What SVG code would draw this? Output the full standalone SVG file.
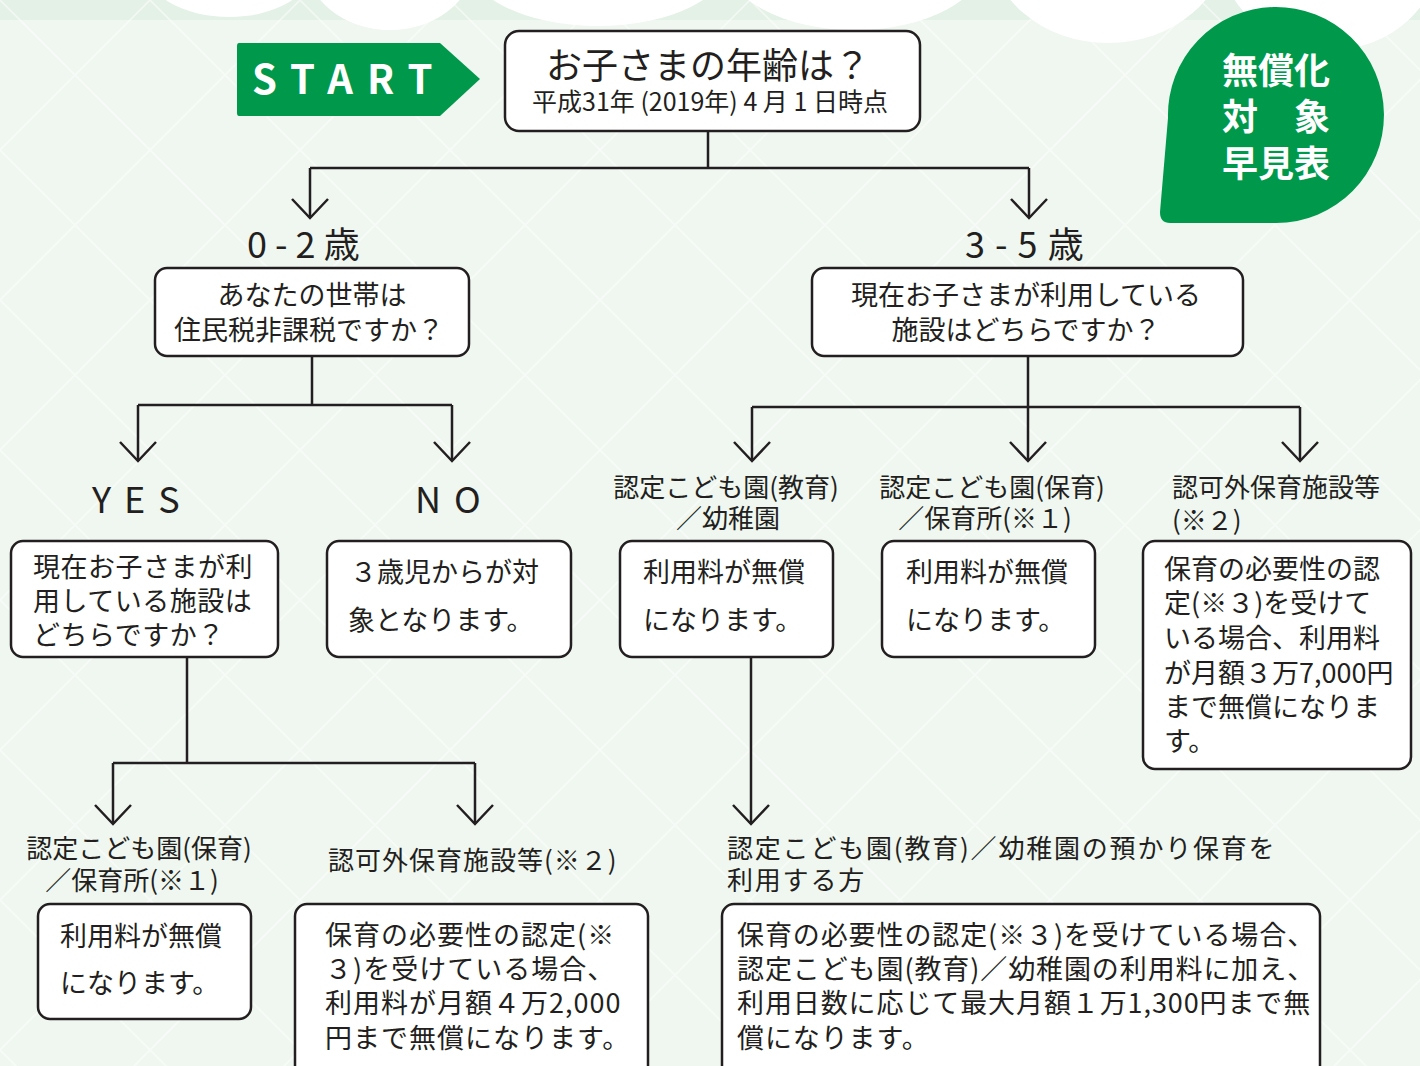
<svg xmlns="http://www.w3.org/2000/svg" xmlns:xlink="http://www.w3.org/1999/xlink" width="1420" height="1066" viewBox="0 0 1420 1066">
<style>
.box{fill:#fff;stroke:#231f20;stroke-width:2.5}
.t{font-family:"Noto Sans CJK JP","Noto Sans",sans-serif;fill:#231f20}
.ln{fill:none;stroke:#231f20;stroke-width:2.5}
.w{font-family:"Noto Sans CJK JP","Noto Sans",sans-serif;fill:#fff;font-weight:bold}
</style>
<defs>
<pattern id="lat" width="150" height="150" patternUnits="userSpaceOnUse">
<path d="M0,0 L150,150 M150,0 L0,150" stroke="#ffffff" stroke-width="1.6" opacity="0.5"/>
</pattern>
<path id="ah" d="M-18,-19 L0,0 L18,-19" fill="none" stroke="#231f20" stroke-width="2.5"/>
</defs>
<rect width="1420" height="1066" fill="#eff7f0"/>
<rect width="1420" height="20" fill="#e4f1e6"/>
<rect width="1420" height="1066" fill="url(#lat)"/>
<g id="clouds" fill="#fff">
<ellipse cx="229" cy="-30" rx="82" ry="47"/>
<ellipse cx="390" cy="-40" rx="85" ry="70"/>
<ellipse cx="598" cy="-40" rx="132" ry="66"/>
<ellipse cx="855" cy="-40" rx="130" ry="70"/>
<ellipse cx="1108" cy="-60" rx="120" ry="103"/>
<ellipse cx="1330" cy="-50" rx="110" ry="100"/>
</g>
<g id="start">
<path d="M239,43 H440 L480,79 L440,116 H239 Q237,116 237,113 V46 Q237,43 239,43 Z" fill="#00994c"/>
<text class="w" x="252" y="94" font-size="40" letter-spacing="14" font-family="'Noto Sans','DejaVu Sans',sans-serif">START</text>
</g>
<g id="badge">
<path d="M1168,118 A108 108 0 1 1 1276,223 L1170,223 Q1160,223 1160,212 L1168,118 Z" fill="#00994c"/>
<text class="w" x="1276" y="84" font-size="36" text-anchor="middle">無償化</text>
<text class="w" x="1276" y="130" font-size="36" text-anchor="middle">対　象</text>
<text class="w" x="1276" y="177" font-size="36" text-anchor="middle">早見表</text>
</g>
<g id="connectors">
<path class="ln" d="M708,131 V168 M310,168 H1029 M310,168 V218 M1029,168 V218"/>
<path class="ln" d="M312,356 V405 M138,405 H452 M138,405 V461 M452,405 V461"/>
<path class="ln" d="M1028,356 V407 M752,407 H1300 M752,407 V461 M1028,407 V461 M1300,407 V461"/>
<path class="ln" d="M751,657 V824"/>
<path class="ln" d="M187,657 V763 M113,763 H475 M113,763 V824 M475,763 V824"/>
<use xlink:href="#ah" x="310" y="218"/>
<use xlink:href="#ah" x="1029" y="218"/>
<use xlink:href="#ah" x="138" y="461"/>
<use xlink:href="#ah" x="452" y="461"/>
<use xlink:href="#ah" x="752" y="461"/>
<use xlink:href="#ah" x="1028" y="461"/>
<use xlink:href="#ah" x="1300" y="461"/>
<use xlink:href="#ah" x="751" y="824"/>
<use xlink:href="#ah" x="113" y="824"/>
<use xlink:href="#ah" x="475" y="824"/>
</g>
<g id="q-age">
<rect class="box" x="505" y="31" width="415" height="100" rx="14"/>
<text class="t" x="708" y="79" font-size="36" text-anchor="middle">お子さまの年齢は？</text>
<text class="t" x="710" y="111" font-size="25" text-anchor="middle">平成31年 (2019年) 4 月 1 日時点</text>
</g>
<g id="lbl-02"><text class="t" x="247" y="258" font-size="36">0 - 2 歳</text></g>
<g id="lbl-35"><text class="t" x="965" y="258" font-size="36" letter-spacing="1">3 - 5 歳</text></g>
<g id="q-tax">
<rect class="box" x="155" y="268" width="314" height="88" rx="12"/>
<text class="t" x="312" y="305" font-size="27" text-anchor="middle">あなたの世帯は</text>
<text class="t" x="309" y="340" font-size="27" text-anchor="middle">住民税非課税ですか？</text>
</g>
<g id="q-facility35">
<rect class="box" x="812" y="268" width="431" height="88" rx="12"/>
<text class="t" x="1026" y="305" font-size="27" text-anchor="middle">現在お子さまが利用している</text>
<text class="t" x="1026" y="340" font-size="27" text-anchor="middle">施設はどちらですか？</text>
</g>
<g id="lbl-yes"><text class="t" x="92" y="513" font-size="36" letter-spacing="13">YES</text></g>
<g id="lbl-no"><text class="t" x="415" y="513" font-size="36" letter-spacing="13">NO</text></g>
<g id="q-facility02">
<rect class="box" x="11" y="541" width="267" height="116" rx="12"/>
<text class="t" x="33" y="577" font-size="27" letter-spacing="0.5">現在お子さまが利</text>
<text class="t" x="33" y="611" font-size="27" letter-spacing="0.5">用している施設は</text>
<text class="t" x="33" y="645" font-size="27" letter-spacing="0.5">どちらですか？</text>
</g>
<g id="no-result">
<rect class="box" x="327" y="541" width="244" height="116" rx="12"/>
<text class="t" x="350" y="582" font-size="27">３歳児からが対</text>
<text class="t" x="348" y="630" font-size="27">象となります。</text>
</g>
<g id="lbl-kyoiku">
<text class="t" x="726" y="497" font-size="26" text-anchor="middle">認定こども園(教育)</text>
<text class="t" x="728" y="528" font-size="26" text-anchor="middle">／幼稚園</text>
</g>
<g id="lbl-hoiku">
<text class="t" x="992" y="497" font-size="26" text-anchor="middle">認定こども園(保育)</text>
<text class="t" x="985" y="528" font-size="26" text-anchor="middle">／保育所(※１)</text>
</g>
<g id="lbl-ninkagai">
<text class="t" x="1172" y="497" font-size="26">認可外保育施設等</text>
<text class="t" x="1172" y="530" font-size="26">(※２)</text>
</g>
<g id="r-kyoiku">
<rect class="box" x="620" y="541" width="213" height="116" rx="12"/>
<text class="t" x="643" y="582" font-size="27">利用料が無償</text>
<text class="t" x="643" y="630" font-size="27">になります。</text>
</g>
<g id="r-hoiku">
<rect class="box" x="882" y="541" width="213" height="116" rx="12"/>
<text class="t" x="906" y="582" font-size="27">利用料が無償</text>
<text class="t" x="906" y="630" font-size="27">になります。</text>
</g>
<g id="r-ninkagai35">
<rect class="box" x="1143" y="541" width="268" height="228" rx="12"/>
<text class="t" x="1164" y="579" font-size="27">保育の必要性の認</text>
<text class="t" x="1164" y="613" font-size="27">定(※３)を受けて</text>
<text class="t" x="1164" y="648" font-size="27">いる場合、利用料</text>
<text class="t" x="1164" y="683" font-size="27">が月額３万7,000円</text>
<text class="t" x="1164" y="717" font-size="27">まで無償になりま</text>
<text class="t" x="1164" y="751" font-size="27">す。</text>
</g>
<g id="lbl-hoiku02">
<text class="t" x="139" y="858" font-size="26" text-anchor="middle">認定こども園(保育)</text>
<text class="t" x="132" y="890" font-size="26" text-anchor="middle">／保育所(※１)</text>
</g>
<g id="lbl-ninkagai02"><text class="t" x="328" y="870" font-size="26" letter-spacing="1">認可外保育施設等(※２)</text></g>
<g id="lbl-azukari">
<text class="t" x="727" y="858" font-size="26" letter-spacing="1.8">認定こども園(教育)／幼稚園の預かり保育を</text>
<text class="t" x="727" y="890" font-size="26" letter-spacing="1.8">利用する方</text>
</g>
<g id="r-hoiku02">
<rect class="box" x="38" y="904" width="213" height="115" rx="12"/>
<text class="t" x="60" y="946" font-size="27">利用料が無償</text>
<text class="t" x="60" y="993" font-size="27">になります。</text>
</g>
<g id="r-ninkagai02">
<rect class="box" x="295" y="904" width="353" height="175" rx="12"/>
<text class="t" x="325" y="945" font-size="27" letter-spacing="1">保育の必要性の認定(※</text>
<text class="t" x="325" y="979" font-size="27" letter-spacing="1">３)を受けている場合、</text>
<text class="t" x="325" y="1013" font-size="27" letter-spacing="1">利用料が月額４万2,000</text>
<text class="t" x="325" y="1048" font-size="27" letter-spacing="1">円まで無償になります。</text>
</g>
<g id="r-azukari">
<rect class="box" x="722" y="904" width="598" height="175" rx="12"/>
<text class="t" x="737" y="945" font-size="27" letter-spacing="0.9">保育の必要性の認定(※３)を受けている場合、</text>
<text class="t" x="737" y="979" font-size="27" letter-spacing="0.9">認定こども園(教育)／幼稚園の利用料に加え、</text>
<text class="t" x="737" y="1013" font-size="27" letter-spacing="0.9">利用日数に応じて最大月額１万1,300円まで無</text>
<text class="t" x="737" y="1048" font-size="27" letter-spacing="0.9">償になります。</text>
</g>
</svg>
